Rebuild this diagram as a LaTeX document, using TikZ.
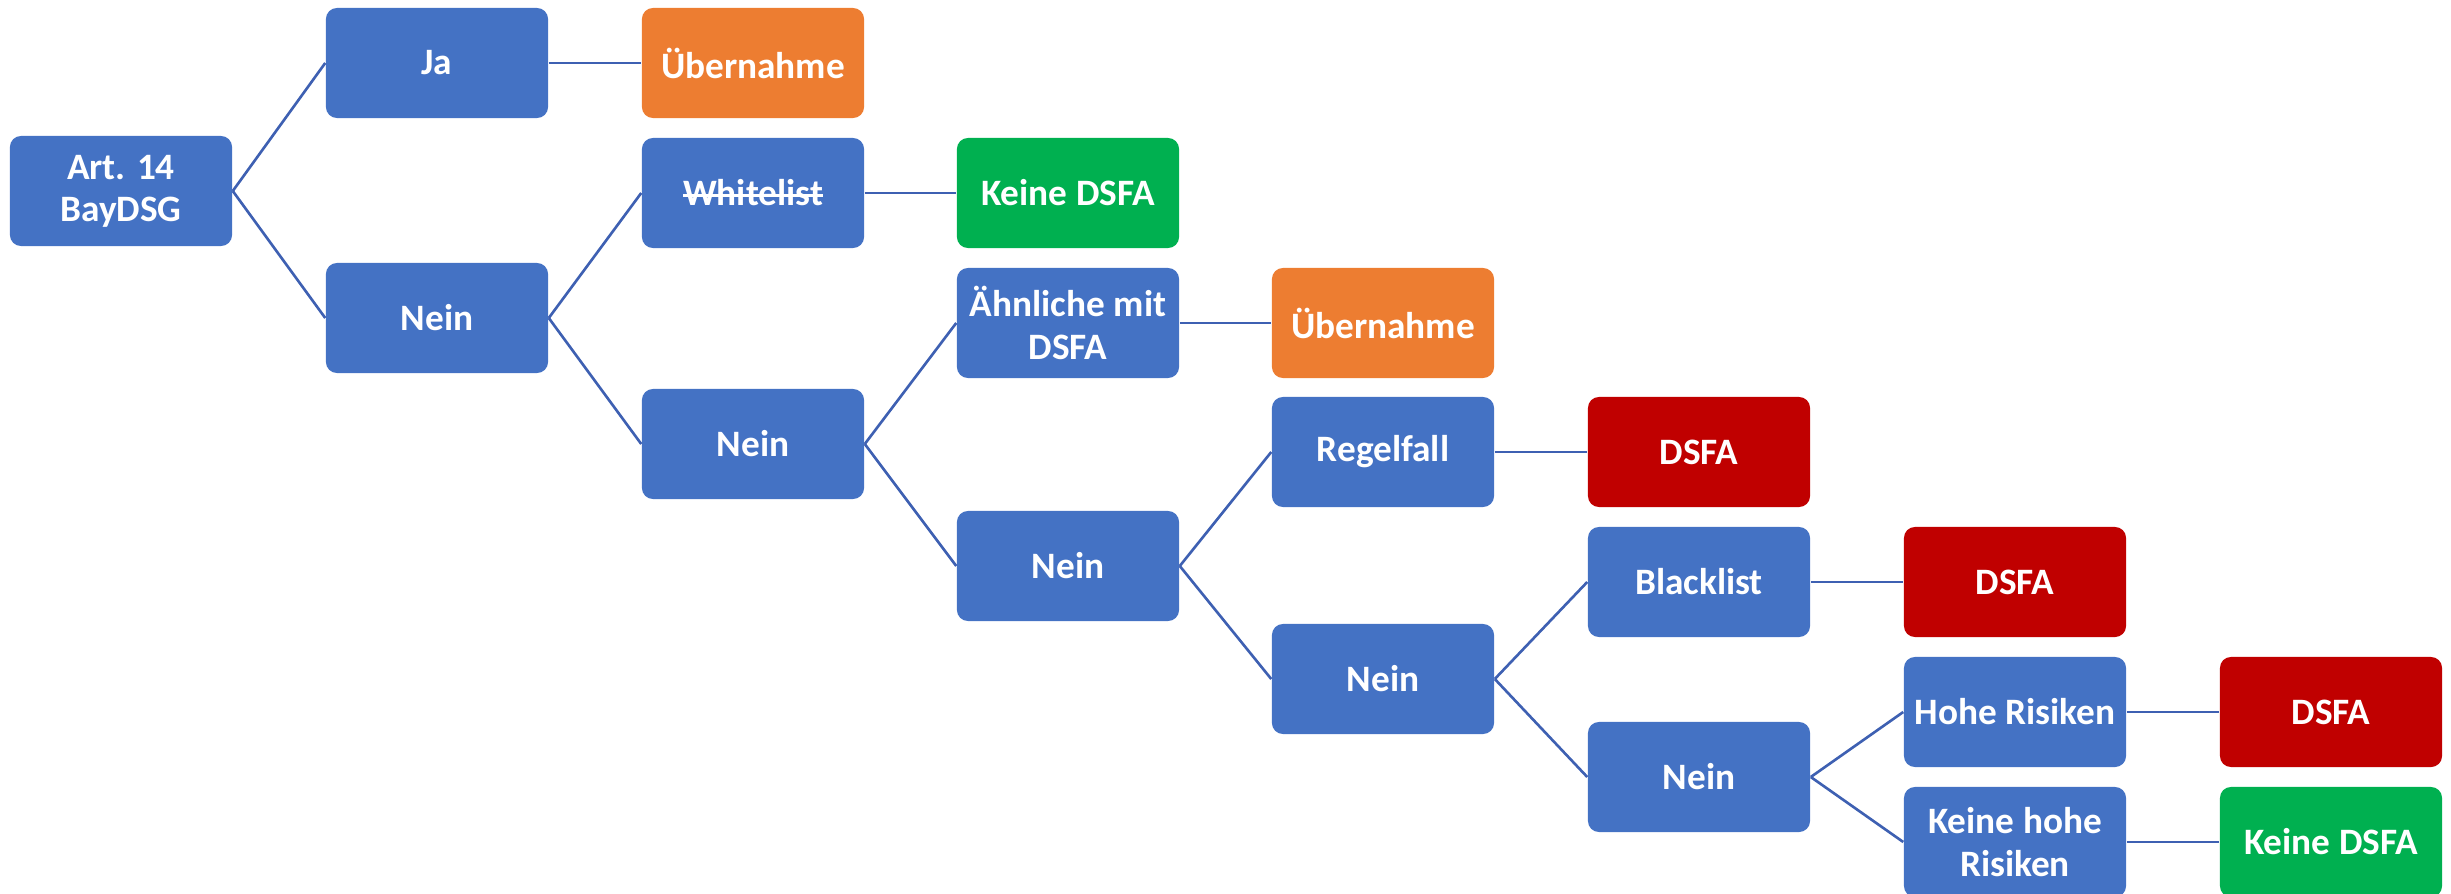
\documentclass[tikz,border=0pt]{standalone}
\usepackage{fontspec}
\setmainfont{Carlito}
\newlength\strikelen
\newcommand\mystrike[1]{\settowidth\strikelen{#1}\rlap{#1}\raisebox{0.25em}{\rule{\strikelen}{0.8pt}}}
\definecolor{cblue}{HTML}{4472C4}
\definecolor{corange}{HTML}{ED7D31}
\definecolor{cgreen}{HTML}{00B050}
\definecolor{cred}{HTML}{C00000}
\definecolor{cline}{RGB}{62,96,178}
\tikzset{
  bx/.style={draw=none, fill=cblue, rounded corners=0.11cm, minimum width=2.22cm, minimum height=1.10cm,
    inner sep=0pt, align=center, text=white, font=\fontsize{10.6}{12.0}\selectfont\bfseries},
  ob/.style={bx, fill=corange},
  gb/.style={bx, fill=cgreen},
  rb/.style={bx, fill=cred},
  conn/.style={draw=cline, line width=0.75pt}
}
\begin{document}
\begin{tikzpicture}[x=0.01cm, y=-0.01cm]
\useasboundingbox (0,0) rectangle (2451,894);
\node[bx] (art) at (121,191) {Art. 14\\BayDSG};
\node[bx] (ja) at (437,63) {Ja};
\node[ob] (ueb1) at (753,63) {Übernahme};
\node[bx] (nein1) at (437,318) {Nein};
\node[bx] (white) at (753,193) {\mystrike{Whitelist}};
\node[gb] (keine1) at (1068,193) {Keine DSFA};
\node[bx] (nein2) at (753,444) {Nein};
\node[bx] (aehn) at (1068,323) {Ähnliche mit\\DSFA};
\node[ob] (ueb2) at (1383,323) {Übernahme};
\node[bx] (nein3) at (1068,566) {Nein};
\node[bx] (regel) at (1383,452) {Regelfall};
\node[rb] (dsfa1) at (1699,452) {DSFA};
\node[bx] (nein4) at (1383,679) {Nein};
\node[bx] (black) at (1699,582) {Blacklist};
\node[rb] (dsfa2) at (2015,582) {DSFA};
\node[bx] (nein5) at (1699,777) {Nein};
\node[bx] (hohe) at (2015,712) {Hohe Risiken};
\node[rb] (dsfa3) at (2331,712) {DSFA};
\node[bx] (keineh) at (2015,842) {Keine hohe\\Risiken};
\node[gb] (keine2) at (2331,842) {Keine DSFA};
\draw[conn] (art.east) -- (ja.west);
\draw[conn] (art.east) -- (nein1.west);
\draw[conn] (ja.east) -- (ueb1.west);
\draw[conn] (nein1.east) -- (white.west);
\draw[conn] (nein1.east) -- (nein2.west);
\draw[conn] (white.east) -- (keine1.west);
\draw[conn] (nein2.east) -- (aehn.west);
\draw[conn] (nein2.east) -- (nein3.west);
\draw[conn] (aehn.east) -- (ueb2.west);
\draw[conn] (nein3.east) -- (regel.west);
\draw[conn] (nein3.east) -- (nein4.west);
\draw[conn] (regel.east) -- (dsfa1.west);
\draw[conn] (nein4.east) -- (black.west);
\draw[conn] (nein4.east) -- (nein5.west);
\draw[conn] (black.east) -- (dsfa2.west);
\draw[conn] (nein5.east) -- (hohe.west);
\draw[conn] (nein5.east) -- (keineh.west);
\draw[conn] (hohe.east) -- (dsfa3.west);
\draw[conn] (keineh.east) -- (keine2.west);
\end{tikzpicture}
\end{document}
